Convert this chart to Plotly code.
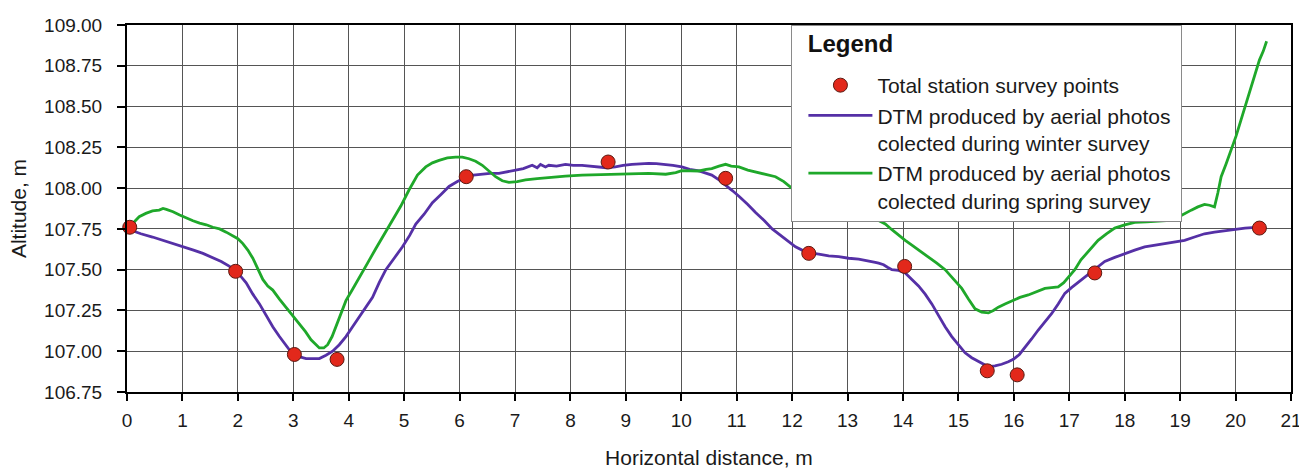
import plotly.graph_objects as go

# Total station survey points
survey_x = [0.05, 1.96, 3.02, 3.79, 6.12, 8.68, 10.80, 12.30, 14.03, 15.52, 16.06, 17.46, 20.43]
survey_y = [107.76, 107.49, 106.98, 106.95, 108.07, 108.16, 108.06, 107.60, 107.52, 106.88, 106.855, 107.48, 107.755]

# DTM - winter survey
winter_x = [0.00, 0.25, 0.46, 0.75, 1.00, 1.20, 1.37, 1.55, 1.70, 1.85, 1.96, 2.05, 2.15, 2.27, 2.39, 2.51,
            2.63, 2.75, 2.87, 2.95, 3.02, 3.12, 3.23, 3.35, 3.47, 3.59, 3.71, 3.83, 3.95, 4.07, 4.19, 4.31,
            4.43, 4.55, 4.67, 4.82, 4.97, 5.10, 5.21, 5.36, 5.51, 5.66, 5.81, 5.96, 6.11, 6.25, 6.41, 6.55,
            6.71, 6.85, 7.01, 7.15, 7.31, 7.40, 7.46, 7.55, 7.61, 7.75, 7.91, 8.05, 8.21, 8.35, 8.51, 8.65,
            8.81, 8.95, 9.11, 9.25, 9.41, 9.55, 9.72, 9.85, 10.01, 10.15, 10.32, 10.45, 10.55, 10.68, 10.80,
            10.92, 11.04, 11.20, 11.34, 11.50, 11.64, 11.80, 11.94, 12.06, 12.18, 12.30, 12.48, 12.66, 12.84,
            13.02, 13.20, 13.38, 13.50, 13.56, 13.65, 13.72, 13.80, 13.92, 14.04, 14.16, 14.28, 14.40, 14.52,
            14.64, 14.76, 14.88, 15.00, 15.12, 15.24, 15.39, 15.54, 15.66, 15.78, 15.90, 15.99, 16.10, 16.20,
            16.32, 16.44, 16.56, 16.68, 16.80, 16.92, 17.04, 17.15, 17.28, 17.40, 17.52, 17.64, 17.82, 18.00,
            18.18, 18.36, 18.54, 18.72, 18.90, 19.08, 19.26, 19.44, 19.62, 19.81, 20.00, 20.17, 20.30, 20.44]
winter_y = [107.75, 107.72, 107.70, 107.67, 107.645, 107.62, 107.60, 107.575, 107.55, 107.52, 107.49, 107.46,
            107.42, 107.35, 107.29, 107.22, 107.15, 107.09, 107.04, 107.00, 106.98, 106.965, 106.955, 106.955,
            106.955, 106.975, 107.00, 107.04, 107.09, 107.15, 107.21, 107.27, 107.33, 107.42, 107.50, 107.57,
            107.64, 107.71, 107.78, 107.84, 107.91, 107.96, 108.01, 108.04, 108.065, 108.08, 108.085, 108.09,
            108.09, 108.10, 108.107, 108.12, 108.14, 108.125, 108.145, 108.13, 108.14, 108.135, 108.146,
            108.14, 108.14, 108.135, 108.13, 108.125, 108.13, 108.14, 108.146, 108.15, 108.152, 108.15,
            108.146, 108.14, 108.13, 108.115, 108.105, 108.09, 108.08, 108.05, 108.02, 107.985, 107.95,
            107.90, 107.85, 107.80, 107.75, 107.71, 107.67, 107.64, 107.62, 107.605, 107.595, 107.585,
            107.58, 107.57, 107.565, 107.555, 107.545, 107.54, 107.53, 107.515, 107.50, 107.495, 107.48,
            107.44, 107.40, 107.35, 107.29, 107.22, 107.15, 107.09, 107.04, 106.99, 106.96, 106.93, 106.905,
            106.91, 106.92, 106.935, 106.95, 106.98, 107.02, 107.075, 107.13, 107.18, 107.23, 107.29, 107.355,
            107.39, 107.42, 107.455, 107.49, 107.52, 107.55, 107.575, 107.60, 107.62, 107.64, 107.65, 107.66,
            107.67, 107.68, 107.70, 107.72, 107.73, 107.74, 107.75, 107.755, 107.758, 107.76]

# DTM - spring survey
spring_x = [0.00, 0.08, 0.15, 0.22, 0.34, 0.46, 0.58, 0.65, 0.71, 0.83, 0.95, 1.07, 1.19, 1.31, 1.43, 1.55,
            1.67, 1.79, 1.91, 2.00, 2.09, 2.18, 2.27, 2.36, 2.45, 2.54, 2.63, 2.75, 2.87, 2.99, 3.11, 3.22,
            3.32, 3.40, 3.47, 3.55, 3.62, 3.70, 3.77, 3.86, 3.95, 4.07, 4.19, 4.34, 4.49, 4.64, 4.79, 4.94,
            5.09, 5.24, 5.39, 5.51, 5.63, 5.78, 5.93, 6.05, 6.17, 6.29, 6.41, 6.53, 6.65, 6.77, 6.89, 7.04,
            7.19, 7.40, 7.61, 7.91, 8.21, 8.51, 8.81, 9.11, 9.41, 9.72, 9.90, 10.01, 10.19, 10.32, 10.45,
            10.55, 10.68, 10.80, 10.90, 11.04, 11.20, 11.34, 11.52, 11.70, 11.85, 12.00, 12.12, 12.24, 12.33,
            12.42, 12.54, 12.66, 12.84, 13.02, 13.20, 13.38, 13.53, 13.68, 13.80, 13.92, 14.04, 14.16, 14.31,
            14.46, 14.61, 14.76, 14.91, 15.06, 15.18, 15.30, 15.42, 15.54, 15.63, 15.72, 15.84, 15.96, 16.11,
            16.26, 16.41, 16.56, 16.68, 16.80, 16.90, 16.98, 17.10, 17.21, 17.36, 17.52, 17.67, 17.82, 18.00,
            18.18, 18.40, 18.60, 18.75, 18.90, 19.05, 19.20, 19.32, 19.44, 19.53, 19.62, 19.68, 19.74, 19.83,
            19.92, 20.01, 20.10, 20.19, 20.28, 20.36, 20.43, 20.50, 20.56]
spring_y = [107.76, 107.775, 107.80, 107.825, 107.845, 107.86, 107.865, 107.875, 107.87, 107.855, 107.835,
            107.815, 107.80, 107.785, 107.775, 107.76, 107.75, 107.73, 107.71, 107.69, 107.66, 107.62, 107.57,
            107.50, 107.44, 107.40, 107.375, 107.32, 107.27, 107.22, 107.17, 107.12, 107.07, 107.04, 107.02,
            107.02, 107.04, 107.09, 107.15, 107.23, 107.31, 107.38, 107.455, 107.54, 107.63, 107.715, 107.80,
            107.89, 107.99, 108.08, 108.13, 108.155, 108.17, 108.185, 108.19, 108.19, 108.18, 108.165, 108.14,
            108.105, 108.07, 108.045, 108.035, 108.04, 108.05, 108.058, 108.066, 108.073, 108.08, 108.082,
            108.085, 108.087, 108.09, 108.085, 108.095, 108.107, 108.107, 108.105, 108.115, 108.12, 108.135,
            108.146, 108.135, 108.13, 108.11, 108.10, 108.085, 108.07, 108.04, 108.00, 107.965, 107.93, 107.91,
            107.90, 107.905, 107.91, 107.90, 107.89, 107.865, 107.835, 107.81, 107.78, 107.745, 107.71, 107.68,
            107.65, 107.615, 107.58, 107.54, 107.50, 107.445, 107.385, 107.32, 107.26, 107.24, 107.235, 107.25,
            107.27, 107.29, 107.31, 107.33, 107.345, 107.365, 107.385, 107.39, 107.395, 107.42, 107.45, 107.50,
            107.56, 107.62, 107.68, 107.72, 107.755, 107.775, 107.79, 107.793, 107.795, 107.80, 107.81, 107.84,
            107.865, 107.885, 107.90, 107.895, 107.885, 107.97, 108.07, 108.15, 108.23, 108.32, 108.42, 108.52,
            108.62, 108.70, 108.785, 108.84, 108.90]

FONT = "Liberation Sans, Arial, sans-serif"
PURPLE = "#5530A6"
GREEN = "#1FA82A"
RED = "#E2281B"

fig = go.Figure()
fig.add_trace(go.Scatter(
    x=winter_x, y=winter_y, mode="lines", legendrank=2,
    name="DTM produced by aerial photos\u00a0<br>colected during winter survey",
    line=dict(color=PURPLE, width=2.8),
))
fig.add_trace(go.Scatter(
    x=spring_x, y=spring_y, mode="lines", legendrank=3,
    name="DTM produced by aerial photos<br>colected during spring survey",
    line=dict(color=GREEN, width=2.8),
))
fig.add_trace(go.Scatter(
    x=survey_x, y=survey_y, mode="markers", legendrank=1,
    name="Total station survey points",
    marker=dict(size=14, color=RED, line=dict(color="#5a1a12", width=1)),
    cliponaxis=False,
))

fig.update_layout(
    width=1299, height=471,
    margin=dict(l=127, r=8, t=25, b=79, autoexpand=False),
    paper_bgcolor="white", plot_bgcolor="white",
    font=dict(family=FONT, size=19, color="#1a1a1a"),
    showlegend=True,
    legend=dict(
        title=dict(text="<sup><b><span style='font-size:24px'>\u00a0\u00a0Legend</span></b></sup>",
                   font=dict(size=30, color="#111")),
        font=dict(size=21, color="#1a1a1a"),
        x=0.5708, y=1, xanchor="left", yanchor="top",
        bgcolor="white", bordercolor="#8a8a8a", borderwidth=1,
        traceorder="normal", itemwidth=64, indentation=11, valign="top",
    ),
)

fig.update_xaxes(
    range=[0, 21], dtick=1, tick0=0, automargin=False,
    showgrid=True, gridcolor="#555555", gridwidth=1,
    showline=True, linecolor="black", linewidth=2, mirror=True,
    ticks="outside", ticklen=7, tickwidth=2, tickcolor="black",
    zeroline=False, ticklabelstandoff=3, ticklabeloverflow="allow",
    tickfont=dict(size=19),
    title=dict(text="Horizontal distance, m", font=dict(size=21), standoff=21),
)
fig.update_yaxes(
    range=[106.75, 109.0], dtick=0.25, tick0=106.75, tickformat=".2f", automargin=False,
    showgrid=True, gridcolor="#555555", gridwidth=1,
    showline=True, linecolor="black", linewidth=2, mirror=True,
    ticks="outside", ticklen=8, tickwidth=2, tickcolor="black",
    zeroline=False, ticklabelstandoff=11,
    tickfont=dict(size=19),
    title=dict(text="Altitude, m", font=dict(size=21), standoff=12),
)

fig.write_html("out.html")
